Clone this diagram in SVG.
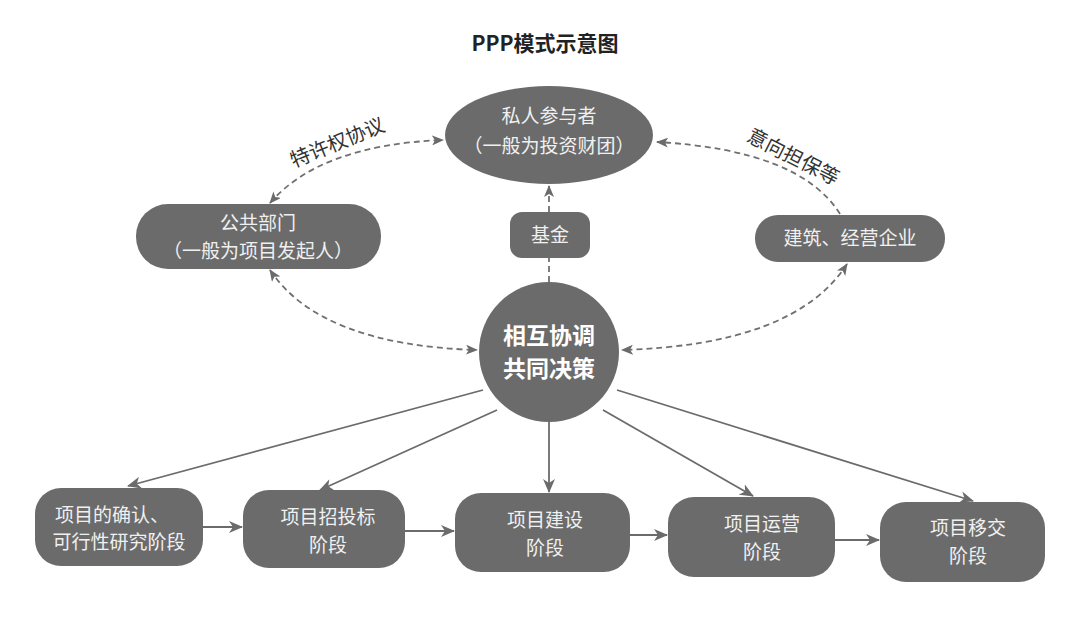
<svg xmlns="http://www.w3.org/2000/svg" width="1090" height="621" viewBox="0 0 1090 621">
<style>
.node{fill:#6b6b6b}
.t{font-family:"Noto Sans CJK SC","Noto Sans",sans-serif;fill:#f0f0f0;text-anchor:middle;font-size:19px}
.b{font-weight:bold;font-size:23px;fill:#ffffff}
.lbl{font-family:"Noto Sans CJK SC","Noto Sans",sans-serif;fill:#333;font-size:20px;text-anchor:middle}
.dash{fill:none;stroke:#707070;stroke-width:1.8;stroke-dasharray:6 4}
.solid{fill:none;stroke:#6b6b6b;stroke-width:1.8}
</style>
<defs>
<marker id="ah" viewBox="0 0 12 10" refX="11" refY="5" markerWidth="12" markerHeight="10" markerUnits="userSpaceOnUse" orient="auto-start-reverse">
<path d="M0,0 L12,5 L0,10 L3,5 z" fill="#6b6b6b"/>
</marker>
<marker id="as" viewBox="0 0 14 12" refX="13" refY="6" markerWidth="14" markerHeight="12" markerUnits="userSpaceOnUse" orient="auto">
<path d="M0,0 L14,6 L0,12 L4,6 z" fill="#6b6b6b"/>
</marker>
</defs>
<rect width="1090" height="621" fill="#ffffff"/>
<text x="545" y="51" font-family="'Noto Sans CJK SC','Noto Sans',sans-serif" font-weight="bold" font-size="21" fill="#222" text-anchor="middle">PPP模式示意图</text>
<g id="connectors">
<path class="dash" d="M270,203 Q320,145 443,140" marker-start="url(#ah)" marker-end="url(#ah)"/>
<path class="dash" d="M840,214 Q800,150 657,142" marker-end="url(#ah)"/>
<path class="dash" d="M549,282 L549,186" marker-end="url(#ah)"/>
<path class="dash" d="M270,270 Q320,345 477,350" marker-start="url(#ah)" marker-end="url(#ah)"/>
<path class="dash" d="M847,264 Q795,345 622,350" marker-start="url(#ah)" marker-end="url(#ah)"/>
<path class="solid" d="M483,390 L128,486" marker-end="url(#as)"/>
<path class="solid" d="M497,410 L320,490" marker-end="url(#as)"/>
<path class="solid" d="M549,422 L549,492" marker-end="url(#as)"/>
<path class="solid" d="M603,410 L753,496" marker-end="url(#as)"/>
<path class="solid" d="M617,390 L973,501" marker-end="url(#as)"/>
<path class="solid" d="M203,527 L242,527" marker-end="url(#as)"/>
<path class="solid" d="M405,531 L454,531" marker-end="url(#as)"/>
<path class="solid" d="M630,535 L667,535" marker-end="url(#as)"/>
<path class="solid" d="M835,540 L879,540" marker-end="url(#as)"/>
<text class="lbl" transform="translate(340,149) rotate(-22)">特许权协议</text>
<text class="lbl" transform="translate(790,163) rotate(27)">意向担保等</text>
</g>
<g id="private">
<ellipse class="node" cx="549" cy="135" rx="104" ry="49"/>
<text class="t" x="549" y="123">私人参与者</text>
<text class="t" x="549" y="153">（一般为投资财团）</text>
</g>
<g id="public">
<rect class="node" x="136" y="204" width="245" height="65" rx="32"/>
<text class="t" x="258" y="230">公共部门</text>
<text class="t" x="258" y="258">（一般为项目发起人）</text>
</g>
<g id="fund">
<rect class="node" x="510" y="212" width="80" height="46" rx="12"/>
<text class="t" x="550" y="242">基金</text>
</g>
<g id="builder">
<rect class="node" x="755" y="215" width="190" height="47" rx="23"/>
<text class="t" x="850" y="245">建筑、经营企业</text>
</g>
<g id="center">
<circle class="node" cx="549" cy="352" r="70"/>
<text class="t b" x="549" y="344">相互协调</text>
<text class="t b" x="549" y="377">共同决策</text>
</g>
<g id="stage1">
<rect class="node" x="35" y="488" width="168" height="78" rx="26"/>
<text class="t" x="112" y="522">项目的确认、</text>
<text class="t" x="119" y="549">可行性研究阶段</text>
</g>
<g id="stage2">
<rect class="node" x="243" y="490" width="162" height="78" rx="26"/>
<text class="t" x="328" y="524">项目招投标</text>
<text class="t" x="328" y="552">阶段</text>
</g>
<g id="stage3">
<rect class="node" x="455" y="493" width="175" height="79" rx="26"/>
<text class="t" x="545" y="527">项目建设</text>
<text class="t" x="545" y="555">阶段</text>
</g>
<g id="stage4">
<rect class="node" x="668" y="497" width="167" height="80" rx="26"/>
<text class="t" x="762" y="531">项目运营</text>
<text class="t" x="762" y="559">阶段</text>
</g>
<g id="stage5">
<rect class="node" x="880" y="502" width="165" height="80" rx="26"/>
<text class="t" x="968" y="535">项目移交</text>
<text class="t" x="968" y="563">阶段</text>
</g>
</svg>
